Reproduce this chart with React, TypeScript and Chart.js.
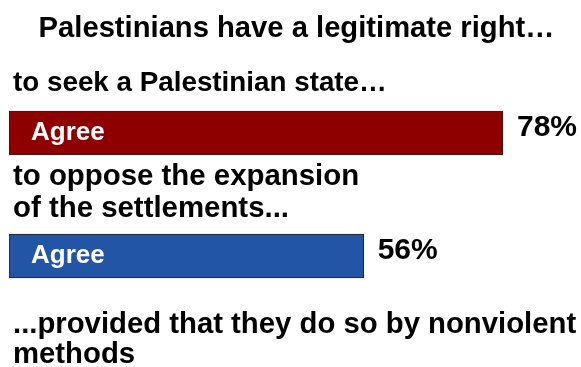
import React, { useEffect, useRef } from "react";
import { Chart, registerables } from "chart.js";

Chart.register(...registerables);

const categories = ["to seek a Palestinian state…", "to oppose the expansion of the settlements..."];
const values = [78, 56];
const barLabels = ["Agree", "Agree"];
const barColors = ["#8E0000", "#2255A5"];
const title = "Palestinians have a legitimate right…";
const headerLines = [["to seek a Palestinian state…"], ["to oppose the expansion", "of the settlements..."]];
const footnoteLines = ["...provided that they do so by nonviolent", "methods"];

const FONT = "'Liberation Sans', Arial, sans-serif";

const textPlugin = {
  id: "textPlugin",
  afterDatasetsDraw(chart: any) {
    const ctx = chart.ctx as CanvasRenderingContext2D;
    const meta = chart.getDatasetMeta(0);
    ctx.save();
    ctx.textBaseline = "alphabetic";
    ctx.fillStyle = "#000";
    ctx.font = `bold 29.2px ${FONT}`;
    ctx.textAlign = "center";
    ctx.fillText(title, 296.5, 37);
    ctx.textAlign = "left";
    ctx.font = `bold 27.8px ${FONT}`;
    ctx.fillText(headerLines[0][0], 13, 91);
    ctx.font = `bold 29.4px ${FONT}`;
    ctx.fillText(headerLines[1][0], 13, 185);
    ctx.fillText(headerLines[1][1], 13, 217);
    ctx.font = `bold 29.3px ${FONT}`;
    ctx.fillText(footnoteLines[0], 13, 333);
    ctx.fillText(footnoteLines[1], 13, 363);
    meta.data.forEach((bar: any, i: number) => {
      ctx.fillStyle = "#fff";
      ctx.font = `bold 26px ${FONT}`;
      ctx.textAlign = "left";
      ctx.fillText(barLabels[i], bar.base + 22, bar.y + 7);
      ctx.fillStyle = "#000";
      ctx.font = `bold 30px ${FONT}`;
      ctx.fillText(values[i] + "%", bar.x + 14, bar.y + 2.5);
    });
    ctx.restore();
  },
};

export default function App() {
  const ref = useRef<HTMLCanvasElement>(null);
  useEffect(() => {
    const chart = new Chart(ref.current!, {
      type: "bar",
      data: {
        labels: categories,
        datasets: [
          {
            data: values,
            backgroundColor: barColors,
            borderColor: "#222",
            borderWidth: 1,
            borderSkipped: false,
            barThickness: 44,
          },
        ],
      },
      options: {
        indexAxis: "y",
        animation: false,
        responsive: false,
        maintainAspectRatio: false,
        layout: { padding: { left: 9, right: 2, top: 71.5, bottom: 49.5 } },
        plugins: { legend: { display: false }, tooltip: { enabled: false }, title: { display: false } },
        scales: {
          x: { min: 0, max: 90, display: false, grid: { display: false } },
          y: { display: false, grid: { display: false } },
        },
      },
      plugins: [textPlugin],
    });
    return () => chart.destroy();
  }, []);
  return (
    <div style={{ position: "fixed", left: 0, top: 0, width: 581, height: 367, background: "#fff" }}>
      <canvas ref={ref} width={581} height={367} style={{ width: 581, height: 367 }} />
    </div>
  );
}
